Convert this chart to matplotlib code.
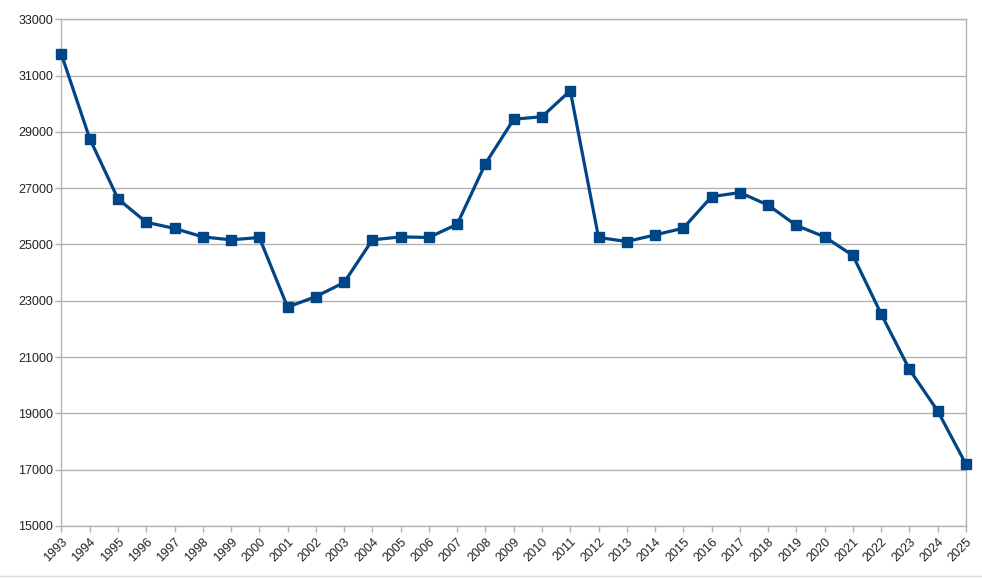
import numpy as np
import matplotlib.pyplot as plt
from matplotlib.lines import Line2D

# values
years = list(range(1993, 2026))
values = [31750, 28760, 26620, 25790, 25570, 25270, 25165, 25250,
          22775, 23150, 23650, 25165, 25270, 25250, 25720, 27875,
          29450, 29540, 30465, 25250, 25105, 25340, 25580, 26700,
          26845, 26400, 25675, 25270, 24610, 22530, 20560, 19085,
          17190]
yticks = list(range(15000, 33001, 2000))

plt.rcParams['font.family'] = ['Liberation Sans', 'DejaVu Sans']

fig = plt.figure(figsize=(9.82, 5.78), dpi=100)
ax = fig.add_axes([0.0626, 0.09, 0.9211, 0.8766])

ax.plot(years, values, color='#004586', linewidth=2.3,
        marker='s', markersize=7.5, markerfacecolor='#004586',
        markeredgecolor='#004586', zorder=3, clip_on=False)

ax.set_xlim(years[0], years[-1])
ax.set_ylim(15000, 33000)
ax.set_yticks(yticks)
ax.set_xticks(years)
ax.set_xticklabels([str(y) for y in years], rotation=45,
                   ha='right', va='top', rotation_mode='anchor')

ax.grid(axis='y', color='#b3b3b3', linewidth=1)
ax.set_axisbelow(True)
for s in ax.spines.values():
    s.set_color('#b3b3b3')
    s.set_linewidth(1)
ax.tick_params(axis='both', colors='#b3b3b3', labelcolor='#222222',
               labelsize=9, length=4, width=1)
ax.tick_params(axis='y', pad=2)
ax.tick_params(axis='x', pad=3)

# faint frame line at image bottom
fig.add_artist(Line2D([0, 1], [0.003, 0.003], color='#d9d9d9',
                      linewidth=1, transform=fig.transFigure))

fig.savefig('out.png', dpi=100)
